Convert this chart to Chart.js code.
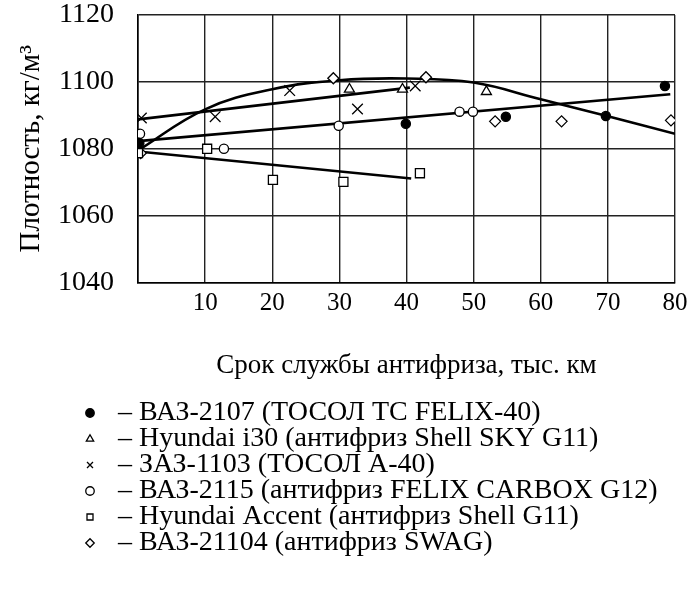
<!DOCTYPE html>
<html>
<head>
<meta charset="utf-8">
<script src="https://cdn.jsdelivr.net/npm/chart.js@4.4.1/dist/chart.umd.min.js"></script>
<style>
  html, body { margin: 0; padding: 0; background: #fff; }
  #wrap { width: 695px; height: 592px; }
</style>
</head>
<body>
<div id="wrap"><canvas id="myChart"></canvas></div>
<script>
// Плотность антифриза в зависимости от пробега
// значения

const xTicks = [0, 10, 20, 30, 40, 50, 60, 70, 80]

const vaz2107X = [0.2, 39.9, 54.8, 69.7, 78.5]
const vaz2107Y = [1081.7, 1087.5, 1089.6, 1089.8, 1098.8]

const i30X = [31.5, 39.4, 51.9]
const i30Y = [1097.8, 1097.8, 1097.1]

const zaz1103X = [0.5, 11.5, 22.6, 32.7, 41.3]
const zaz1103Y = [1089.2, 1089.6, 1097.4, 1091.9, 1098.8]

const vaz2115X = [0.3, 12.8, 29.9, 47.9, 49.9]
const vaz2115Y = [1084.5, 1080.0, 1086.9, 1091.1, 1091.1]

const accentX = [0, 10.3, 20.1, 30.6, 42]
const accentY = [1078.7, 1080.0, 1070.7, 1070.1, 1072.7]

const vaz21104X = [0.4, 29.1, 42.9, 53.2, 63.1, 79.4]
const vaz21104Y = [1078.7, 1101.1, 1101.4, 1088.2, 1088.2, 1088.5]

// линии тренда
const trendZazX = [0, 40.5]
const trendZazY = [1088.8, 1098.3]
const trendLinX = [0, 79.3]
const trendLinY = [1082.3, 1096.3]
const trendAccentX = [0, 40.7]
const trendAccentY = [1079.2, 1071.1]
const trendCurveX = [0, 10, 20, 30, 40, 50, 60, 70, 80]
const trendCurveY = [1079.5, 1091.8, 1097.8, 1100.5, 1101.0, 1099.8, 1094.8, 1089.7, 1084.5]

function pts(xs, ys) {
    return xs.map((x, i) => ({ x: x, y: ys[i] }))
}

const serif = "'Liberation Serif', 'Times New Roman', serif"

function markers(label, xs, ys, style, radius, fill) {
    return {
        label: label,
        data: pts(xs, ys),
        showLine: false,
        pointStyle: style,
        pointRadius: radius,
        pointBorderWidth: 1.3,
        pointBorderColor: '#000',
        pointBackgroundColor: fill,
        borderColor: '#000',
        backgroundColor: fill,
        borderWidth: 1.3,
        order: 0
    }
}

function trend(xs, ys, tension) {
    return {
        data: pts(xs, ys),
        showLine: true,
        pointRadius: 0,
        borderColor: '#000',
        borderWidth: 2.6,
        tension: tension,
        order: 1
    }
}

// сдвиг легенды вправо, как на исходном рисунке
const legendShift = {
    id: 'legendShift',
    afterLayout(chart) { chart.legend.left = 78 }
}

const ctx = document.getElementById('myChart')
const myChart = new Chart(ctx, {
    type: 'scatter',
    data: {
        datasets: [
            markers('– ВАЗ-2107 (ТОСОЛ ТС FELIX-40)', vaz2107X, vaz2107Y, 'circle', 4.6, '#000'),
            markers('– Hyundai i30 (антифриз Shell SKY G11)', i30X, i30Y, 'triangle', 5.8, '#fff'),
            markers('– ЗАЗ-1103 (ТОСОЛ А-40)', zaz1103X, zaz1103Y, 'crossRot', 7.5, '#fff'),
            markers('– ВАЗ-2115 (антифриз FELIX CARBOX G12)', vaz2115X, vaz2115Y, 'circle', 4.6, '#fff'),
            markers('– Hyundai Accent (антифриз Shell G11)', accentX, accentY, 'rect', 6.4, '#fff'),
            markers('– ВАЗ-21104 (антифриз SWAG)', vaz21104X, vaz21104Y, 'rectRot', 5.5, '#fff'),
            trend(trendZazX, trendZazY, 0),
            trend(trendLinX, trendLinY, 0),
            trend(trendAccentX, trendAccentY, 0),
            trend(trendCurveX, trendCurveY, 0.4)
        ]
    },
    options: {
        responsive: true,
        maintainAspectRatio: false,
        animation: false,
        layout: {
            padding: { top: 0, left: 0, right: 20, bottom: 25 }
        },
        scales: {
            x: {
                type: 'linear',
                min: 0,
                max: 80,
                afterBuildTicks: axis => { axis.ticks = xTicks.map(v => ({ value: v })) },
                grid: { color: '#222', lineWidth: 1.4, drawTicks: false },
                border: { color: '#000', width: 1.6 },
                ticks: {
                    color: '#000',
                    padding: 6,
                    maxRotation: 0,
                    font: { family: serif, size: 25 },
                    callback: v => v === 0 ? '' : String(v)
                },
                title: {
                    display: true,
                    text: 'Срок службы антифриза, тыс. км',
                    color: '#000',
                    font: { family: serif, size: 27 },
                    padding: { top: 25, bottom: 19 }
                }
            },
            y: {
                min: 1040,
                max: 1120,
                afterFit: axis => {
                    axis.width = 138
                    axis.paddingTop = 15
                    axis.paddingBottom = 15
                },
                grid: { color: '#222', lineWidth: 1.4, drawTicks: false },
                border: { color: '#000', width: 1.6 },
                ticks: {
                    stepSize: 20,
                    color: '#000',
                    padding: 24,
                    font: { family: serif, size: 28 },
                    callback: v => String(v)
                },
                title: {
                    display: true,
                    text: 'Плотность, кг/м³',
                    color: '#000',
                    font: { family: serif, size: 29 },
                    padding: { top: 14, bottom: 6 }
                }
            }
        },
        plugins: {
            legend: {
                position: 'bottom',
                align: 'start',
                labels: {
                    filter: item => !!item.text,
                    usePointStyle: true,
                    boxWidth: 28,
                    boxHeight: 6,
                    padding: -2,
                    color: '#000',
                    font: { family: serif, size: 28 }
                }
            },
            tooltip: { enabled: false }
        }
    },
    plugins: [legendShift]
})
</script>
</body>
</html>
